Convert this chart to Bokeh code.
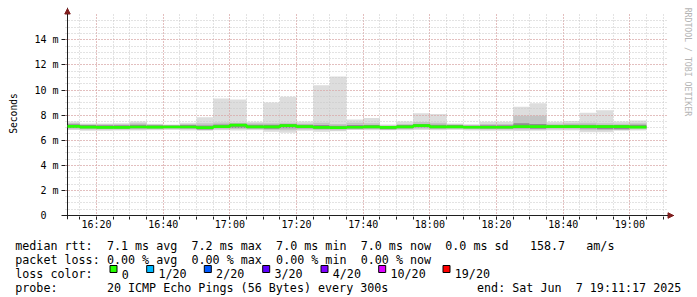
import pandas as pd
from math import pi
from bokeh.plotting import figure
from bokeh.layouts import column, row
from bokeh.models import (Range1d, FixedTicker, DatetimeTickFormatter, Span, Grid,
                          Arrow, NormalHead)
from bokeh.core.properties import value
from bokeh.embed import file_html
from bokeh.resources import INLINE

# ---------------- data ----------------
day = "2025-06-07 "
slot_labels = ["16:10", "16:15", "16:20", "16:25", "16:30", "16:35", "16:40",
               "16:45", "16:50", "16:55", "17:00", "17:05", "17:10", "17:15",
               "17:20", "17:25", "17:30", "17:35", "17:40", "17:45", "17:50",
               "17:55", "18:00", "18:05", "18:10", "18:15", "18:20", "18:25",
               "18:30", "18:35", "18:40", "18:45", "18:50", "18:55", "19:00"]
# RTT in milliseconds (smoke bands, sorted ping quantiles)
rtt_max = [7.50, 7.34, 7.34, 7.36, 7.50, 7.32, 7.25, 7.40, 7.82, 9.33, 9.25, 7.48,
           9.01, 9.47, 7.50, 10.37, 11.08, 7.64, 7.77, 7.25, 7.50, 8.14, 8.09, 7.34,
           7.28, 7.48, 7.48, 8.67, 8.94, 7.48, 7.52, 8.19, 8.38, 7.50, 7.56]
rtt_p19 = [7.38, 7.28, 7.28, 7.28, 7.35, 7.25, 7.20, 7.30, 7.35, 7.42, 7.40, 7.35,
           7.35, 7.40, 7.32, 7.40, 7.30, 7.40, 7.35, 7.18, 7.30, 7.45, 7.40, 7.28,
           7.22, 7.30, 7.30, 7.95, 7.95, 7.32, 7.35, 7.40, 7.35, 7.32, 7.36]
rtt_p16 = [7.28, 7.21, 7.20, 7.20, 7.24, 7.20, 7.18, 7.21, 7.18, 7.26, 7.32, 7.24,
           7.24, 7.30, 7.24, 7.21, 7.16, 7.21, 7.21, 7.12, 7.22, 7.30, 7.24, 7.22,
           7.16, 7.20, 7.20, 7.36, 7.30, 7.22, 7.24, 7.24, 7.22, 7.22, 7.24]
rtt_median = [7.10, 7.04, 7.02, 7.02, 7.05, 7.04, 7.05, 7.05, 7.00, 7.08, 7.20, 7.06,
              7.06, 7.16, 7.08, 7.02, 7.00, 7.03, 7.06, 7.02, 7.06, 7.16, 7.06, 7.06,
              7.03, 7.03, 7.03, 7.08, 7.08, 7.08, 7.08, 7.08, 7.08, 7.08, 7.04]
rtt_p5 = [6.98, 6.95, 6.94, 6.94, 6.96, 6.96, 6.98, 6.96, 6.86, 6.98, 6.98, 6.96,
          6.92, 6.95, 6.96, 6.92, 6.90, 6.94, 6.96, 6.88, 6.96, 7.02, 6.96, 6.98,
          6.96, 6.94, 6.94, 6.96, 6.92, 6.98, 6.98, 6.94, 6.88, 6.88, 6.98]
rtt_p2 = [6.88, 6.85, 6.85, 6.85, 6.86, 6.88, 6.90, 6.88, 6.82, 6.88, 6.90, 6.88,
          6.82, 6.80, 6.85, 6.82, 6.80, 6.86, 6.88, 6.84, 6.88, 6.92, 6.88, 6.90,
          6.88, 6.86, 6.86, 6.86, 6.84, 6.88, 6.88, 6.80, 6.80, 6.82, 6.88]
rtt_min = [6.82, 6.76, 6.76, 6.78, 6.78, 6.80, 6.82, 6.78, 6.76, 6.80, 6.78, 6.80,
           6.68, 6.60, 6.76, 6.68, 6.72, 6.82, 6.80, 6.80, 6.80, 6.82, 6.80, 6.82,
           6.78, 6.76, 6.76, 6.74, 6.76, 6.78, 6.78, 6.63, 6.63, 6.76, 6.78]

y_ticks = [0, 2, 4, 6, 8, 10, 12, 14]
y_tick_labels = ["0", "2 m", "4 m", "6 m", "8 m", "10 m", "12 m", "14 m"]
x_tick_labels = ["16:20", "16:40", "17:00", "17:20", "17:40", "18:00", "18:20",
                 "18:40", "19:00"]

stat_names = ["avg", "max", "min", "now"]
median_rtt_stats = [7.1, 7.2, 7.0, 7.0]
median_rtt_sd = 0.0
median_rtt_am = 158.7
packet_loss_stats = [0.00, 0.00, 0.00, 0.00]
loss_labels = ["0", "1/20", "2/20", "3/20", "4/20", "10/20", "19/20"]
loss_colors = ["#26ff00", "#00b8ff", "#0059ff", "#5e00ff", "#7e00ff", "#dd00ff", "#ff0000"]
probe_text = "20 ICMP Echo Pings (56 Bytes) every 300s"
end_text = ["end: Sat Jun", "7 19:11:17 2025"]
watermark = "RRDTOOL / TOBI OETIKER"

# ---------------- layout constants ----------------
W, H = 697, 297
MAIN_W, MAIN_H = 674, 234
AX_X, AX_Y = 67, 215                     # where the rrd axes sit (canvas px)
FL, FR, FT, FB = 63, 674, 7, 219         # bokeh frame edges (canvas px)
PPM = 600 / 180.0                        # px per minute
PPV = 12.55                              # px per millisecond of rtt
MONO = "DejaVu Sans Mono"

t_start = pd.Timestamp(day + "16:11:17")
EPOCH = pd.Timestamp("1970-01-01")


def ms(ts):
    return (ts - EPOCH) / pd.Timedelta(milliseconds=1)


T0 = ms(t_start)


def tx(cx):      # canvas x -> time (ms)
    return T0 + (cx - AX_X) / PPM * 60000.0


def vy(cy):      # canvas y -> rtt value
    return (AX_Y - cy) / PPV


slot_start = pd.to_datetime([day + s for s in slot_labels])
slot_end = slot_start + pd.Timedelta(minutes=5)
slot_left = [max(s, t_start) for s in slot_start]   # graph starts at t_start

main = figure(width=MAIN_W, height=MAIN_H, x_axis_type="datetime",
              x_range=Range1d(tx(FL), tx(FR)), y_range=Range1d(vy(FB), vy(FT)),
              output_backend="svg", toolbar_location=None,
              min_border_left=FL, min_border_right=MAIN_W - FR,
              min_border_top=FT, min_border_bottom=MAIN_H - FB)
main.outline_line_color = None
main.background_fill_color = "white"
main.border_fill_color = "white"

# smoke
bands = [(rtt_min, rtt_max, "#dddddd"), (rtt_p2, rtt_p19, "#c4c4c4"),
         (rtt_p5, rtt_p16, "#8f8f8f")]
for lo, hi, col in bands:
    main.quad(left=slot_left, right=slot_end, bottom=lo, top=hi,
              fill_color=col, line_color=None)

# median line (loss 0 colour)
xs = list(slot_left) + [slot_end[-1]]
ys = rtt_median + [rtt_median[-1]]
med = main.step(xs, ys, mode="after", line_color=loss_colors[0], line_width=2.6)
med.level = "overlay"

# ticks / labels
x_major = [ms(pd.Timestamp(day + t)) for t in x_tick_labels]
x_minor = [ms(t) for t in pd.date_range(day + "16:15", day + "19:10", freq="5min")]
main.xaxis.ticker = FixedTicker(ticks=x_major, minor_ticks=x_minor)
main.xaxis.formatter = DatetimeTickFormatter(
    minutes="%H:%M", hourmin="%H:%M", hours="%H:%M", minsec="%H:%M",
    seconds="%H:%M", days="%H:%M")
main.yaxis.ticker = FixedTicker(ticks=y_ticks,
                                minor_ticks=[i * 0.5 for i in range(1, 32)])
overrides = dict(zip(y_ticks, y_tick_labels))
overrides[0] = y_tick_labels[0] + "\u00a0\u00a0"
main.yaxis.major_label_overrides = overrides

for ax in (main.xaxis[0], main.yaxis[0]):
    ax.axis_line_color = None
    ax.major_tick_line_color = "#1f1f1f"
    ax.minor_tick_line_color = "#1f1f1f"
    ax.major_label_text_font = MONO
    ax.major_label_text_font_size = "10px"
    ax.major_label_text_color = "black"
main.xaxis.major_tick_in = 4
main.xaxis.major_tick_out = 0
main.xaxis.minor_tick_in = 3
main.xaxis.minor_tick_out = 0
main.xaxis.major_label_standoff = -1
main.yaxis.major_tick_in = AX_X - FL
main.yaxis.major_tick_out = 2
main.yaxis.minor_tick_line_color = None
main.yaxis.major_label_standoff = 1
main.yaxis.axis_label = "Seconds"
main.yaxis.axis_label_text_font = MONO
main.yaxis.axis_label_text_font_size = "9.6px"
main.yaxis.axis_label_text_font_style = "normal"
main.yaxis.axis_label_text_color = "black"
main.yaxis.axis_label_standoff = 12

for g in (main.xgrid[0], main.ygrid[0]):
    g.grid_line_color = "#e39a9a"
    g.grid_line_dash = "1 2"
    g.grid_line_width = 1
    g.minor_grid_line_color = "#c6c6c6"
    g.minor_grid_line_dash = "1 2"
    g.minor_grid_line_width = 1
    g.level = "guide"
if "cross_bounds" in Grid.properties():
    main.xgrid[0].cross_bounds = (vy(AX_Y + 1), vy(13))
    main.ygrid[0].cross_bounds = (tx(65), tx(668))

# the rrd axes themselves
axis_col = "#1f1f1f"
main.add_layout(Span(location=T0, dimension="height", line_color=axis_col, line_width=1))
main.add_layout(Span(location=0, dimension="width", line_color=axis_col, line_width=1))
arrow_col = "#801f1f"
main.add_layout(Arrow(end=NormalHead(size=5.5, fill_color=arrow_col, line_color=arrow_col),
                      x_start=T0, y_start=vy(20), x_end=T0, y_end=vy(8),
                      line_color=axis_col, line_width=1))
main.add_layout(Arrow(end=NormalHead(size=5.5, fill_color=arrow_col, line_color=arrow_col),
                      x_start=tx(650), y_start=0, x_end=tx(673), y_end=0,
                      line_color=axis_col, line_width=1))

# ---------------- watermark strip ----------------
side_w = W - MAIN_W
side = figure(width=side_w, height=MAIN_H, x_range=Range1d(0, side_w),
              y_range=Range1d(0, MAIN_H), output_backend="svg", toolbar_location=None,
              x_axis_location=None, y_axis_location=None, min_border=0)
side.outline_line_color = None
side.grid.visible = False
side.text(x=[687.5 - MAIN_W], y=[MAIN_H - 60], text=[watermark], angle=-pi / 2,
          text_align="center", text_baseline="middle", text_font=value(MONO),
          text_font_size=value("8.2px"), text_color="#b4b4b4")

# ---------------- legend strip ----------------
LEG_H = H - MAIN_H
leg = figure(width=W, height=LEG_H, x_range=Range1d(0, W), y_range=Range1d(0, LEG_H),
             output_backend="svg", toolbar_location=None,
             x_axis_location=None, y_axis_location=None, min_border=0)
leg.outline_line_color = None
leg.grid.visible = False

CW, X0 = 7.05, 14.75
rows_y = [245.3, 259.5, 273.7, 287.8]


def col(c):
    return X0 + c * CW


seg_x, seg_y, seg_t = [], [], []


def txt(cx, cy, s):
    seg_x.append(cx)
    seg_y.append(H - cy)
    seg_t.append(s)


txt(col(0), rows_y[0], "median rtt:")
for i, (v, n) in enumerate(zip(median_rtt_stats, stat_names)):
    txt(col(13 + 12 * i), rows_y[0], f"{v:.1f} ms {n}")
txt(col(61), rows_y[0], f"{median_rtt_sd:.1f} ms sd")
txt(col(73), rows_y[0], f"{median_rtt_am:.1f}")
txt(col(81), rows_y[0], "am/s")

txt(col(0), rows_y[1], "packet loss:")
for i, (v, n) in enumerate(zip(packet_loss_stats, stat_names)):
    txt(col(13 + 12 * i), rows_y[1], f"{v:.2f} % {n}")

txt(col(0), rows_y[2], "loss color:")
box_left = [109, 145.7, 203.3, 261.7, 320, 377.7, 442]
for bl, lab in zip(box_left, loss_labels):
    txt(bl + 12.3, rows_y[2], lab)
leg.quad(left=[b + 0.5 for b in box_left], right=[b + 7.5 for b in box_left],
         top=[H - 265.0] * len(box_left), bottom=[H - 272.0] * len(box_left),
         fill_color=loss_colors, line_color="black", line_width=1)

txt(col(0), rows_y[3], "probe:")
txt(col(13), rows_y[3], probe_text)
end_x0 = 681 - 29 * CW
txt(end_x0, rows_y[3], end_text[0])
txt(end_x0 + 14 * CW, rows_y[3], end_text[1])

leg.text(x=seg_x, y=seg_y, text=seg_t, text_align="left", text_baseline="alphabetic",
         text_font=value(MONO), text_font_size=value("11.7px"), text_color="black")

layout = column(row(main, side), leg)
open("out.html", "w").write(file_html(layout, INLINE))
